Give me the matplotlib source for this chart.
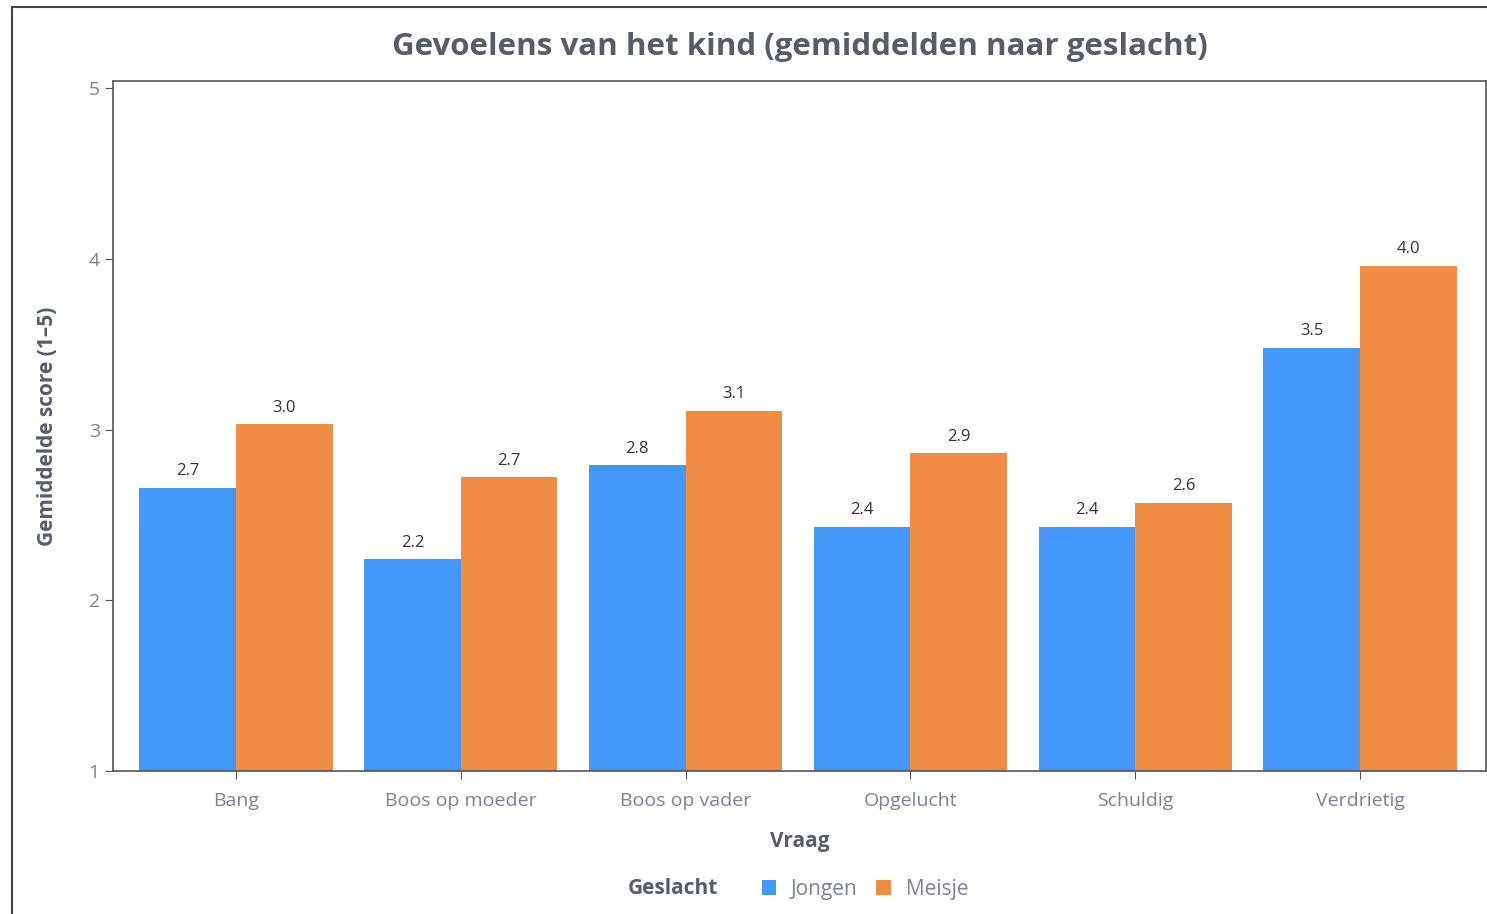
import matplotlib.pyplot as plt
import matplotlib.patches as mpatches
import numpy as np

plt.rcParams['font.family'] = ['Open Sans', 'DejaVu Sans']

CATEGORIES = ["Bang", "Boos op moeder", "Boos op vader", "Opgelucht", "Schuldig", "Verdrietig"]
JONGEN = [2.66, 2.24, 2.79, 2.43, 2.43, 3.48]
MEISJE = [3.03, 2.72, 3.11, 2.86, 2.57, 3.96]
SERIES = ["Jongen", "Meisje"]
Y_TICKS = [1, 2, 3, 4, 5]

BLUE = "#4497f7"
ORANGE = "#f08c43"
GREY = "#7b8294"
DARK = "#565c6a"


def main():
    fig = plt.figure(figsize=(14.87, 9.14), dpi=100)
    # outer frame of the screenshot
    fig.patches.append(mpatches.Rectangle((12 / 1487, -0.01), 1.1, 1 - 7 / 914 + 0.01,
                                          transform=fig.transFigure, fill=False,
                                          edgecolor="#444444", linewidth=1.5))

    ax = fig.add_axes([113 / 1487, 1 - 771 / 914, (1486 - 113) / 1487, (771 - 81) / 914])
    x = np.arange(len(CATEGORIES))
    w = 0.43
    b1 = ax.bar(x - w / 2, np.array(JONGEN) - 1, w, bottom=1, color=BLUE, label=SERIES[0])
    b2 = ax.bar(x + w / 2, np.array(MEISJE) - 1, w, bottom=1, color=ORANGE, label=SERIES[1])

    for bars, vals in ((b1, JONGEN), (b2, MEISJE)):
        for bar, v in zip(bars, vals):
            ax.text(bar.get_x() + bar.get_width() / 2, v + 0.05, "{:.1f}".format(v),
                    ha="center", va="bottom", fontsize=12, color="#333333")

    ax.set_xlim(-0.547, 5.56)
    ax.set_ylim(1, 5.041)
    ax.set_yticks(Y_TICKS)
    ax.set_xticks(x)
    ax.set_xticklabels(CATEGORIES)
    ax.tick_params(axis="both", colors="#555555", labelcolor=GREY, labelsize=14, length=6)
    ax.tick_params(axis="x", pad=9)
    for s in ax.spines.values():
        s.set_color("#555555")
        s.set_linewidth(1.2)

    ax.set_xlabel("Vraag", fontsize=15, fontweight="bold", color=DARK, labelpad=15)
    ax.set_ylabel("Gemiddelde score (1–5)", fontsize=15, fontweight="bold", color=DARK, labelpad=22)
    fig.text(800 / 1487, 1 - 47 / 914, "Gevoelens van het kind (gemiddelden naar geslacht)",
             ha="center", va="center", fontsize=22.5, fontweight="bold", color=DARK)

    fig.text(673 / 1487, 1 - 888 / 914, "Geslacht", ha="center", va="center",
             fontsize=15, fontweight="bold", color=DARK)
    leg = fig.legend(handles=[b1, b2], labels=SERIES, loc="center left",
                     bbox_to_anchor=(743 / 1487, 1 - 889 / 914), ncol=2, frameon=False,
                     fontsize=15, handlelength=0.7, handleheight=0.7, handletextpad=0.7,
                     columnspacing=0.9)
    for t in leg.get_texts():
        t.set_color(GREY)

    fig.savefig("out.png", dpi=100)


if __name__ == '__main__':
    main()
